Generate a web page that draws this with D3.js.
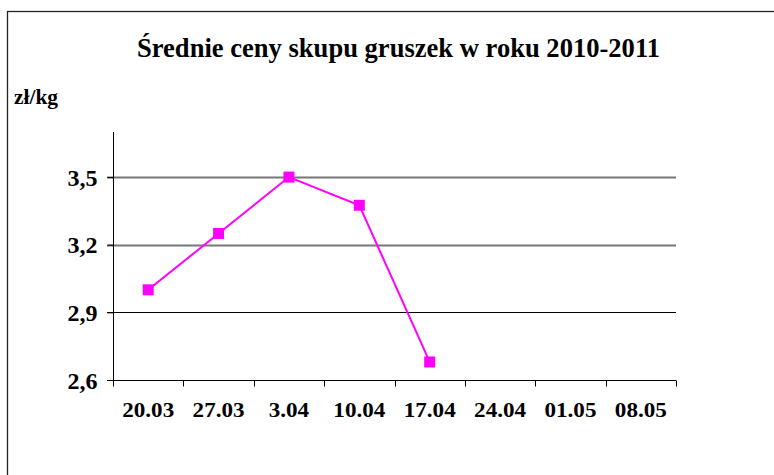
<!DOCTYPE html>
<html><head><meta charset="utf-8">
<script src="https://cdn.jsdelivr.net/npm/d3@7"></script>
<style>body{margin:0;background:#fff}svg{display:block}</style>
</head><body>
<script>
const categories = ["20.03","27.03","3.04","10.04","17.04","24.04","01.05","08.05"];
const values = [3.0, 3.25, 3.5, 3.375, 2.68, null, null, null];
const yTicks = [2.6, 2.9, 3.2, 3.5];
const titleText = "Średnie ceny skupu gruszek w roku 2010-2011";
const unitText = "zł/kg";

const W = 774, H = 475;
const svg = d3.select("body").append("svg").attr("width", W).attr("height", H);
const font = '"Liberation Serif"';

svg.append("rect").attr("x",7.5).attr("y",11.5).attr("width",W+10).attr("height",H+10)
  .attr("fill","none").attr("stroke","#222").attr("stroke-width",1.3);

const x = d3.scaleBand().domain(categories).range([113, 676]);
const y = d3.scaleLinear().domain([2.6, 3.7]).range([380, 132]);

// gridlines
svg.append("g").selectAll("line").data(yTicks.filter(t => t > 2.6)).join("line")
  .attr("x1", 107).attr("x2", 676)
  .attr("y1", d => Math.round(y(d)) + 0.5).attr("y2", d => Math.round(y(d)) + 0.5)
  .attr("stroke", d => d === 2.9 ? "#000" : "#777")
  .attr("stroke-width", d => d === 2.9 ? 1.2 : 2);

// y axis
const yAxis = svg.append("g").attr("transform","translate(113.5,0)")
  .call(d3.axisLeft(y).tickValues(yTicks).tickSize(6).tickFormat(d => d3.format(".1f")(d).replace(".", ",")));
yAxis.select(".domain").attr("d", `M0,${y(3.7)}V${y(2.6)}`).attr("stroke","#000");
yAxis.selectAll(".tick line").attr("stroke","#000");
yAxis.selectAll("text").attr("x", -16).attr("dy","0.34em")
  .style("font-family", font).style("font-weight","bold").style("font-size","24px").attr("fill","#000");

// x axis
const xAxis = svg.append("g").attr("transform","translate(0,380.5)")
  .call(d3.axisBottom(x).tickSize(0).tickFormat(d => d));
xAxis.select(".domain").attr("d","M107,0H676").attr("stroke","#000");
xAxis.selectAll("text").attr("y", 36.5).attr("dy", 0)
  .style("font-family", font).style("font-weight","bold").style("font-size","21px").attr("fill","#000")
  .each(function(){ const w = this.getComputedTextLength(); d3.select(this).attr("textLength", w*1.1).attr("lengthAdjust","spacingAndGlyphs"); });
const edges = categories.map(c => x(c)).concat([x.range()[1]]);
xAxis.append("g").selectAll("line").data(edges).join("line")
  .attr("x1", d => Math.round(d)+0.5).attr("x2", d => Math.round(d)+0.5)
  .attr("y1", 0).attr("y2", 6).attr("stroke","#000");

// line
const pts = categories.map((c,i) => ({c, v: values[i]})).filter(d => d.v != null);
const cx = d => x(d.c) + x.bandwidth()/2;
svg.append("path").datum(pts)
  .attr("d", d3.line().x(cx).y(d => y(d.v)))
  .attr("fill","none").attr("stroke","#ff00ff").attr("stroke-width",2);
svg.append("g").selectAll("rect").data(pts).join("rect")
  .attr("x", d => cx(d) - 5.5).attr("y", d => y(d.v) - 5.5)
  .attr("width", 11).attr("height", 11).attr("fill","#ff00ff");

// title
svg.append("text").attr("x", 398.5).attr("y", 57).attr("text-anchor","middle")
  .style("font-family", font).style("font-weight","bold").style("font-size","28px")
  .attr("textLength", 523).attr("lengthAdjust","spacingAndGlyphs").text(titleText);
svg.append("text").attr("x", 14).attr("y", 104)
  .style("font-family", font).style("font-weight","bold").style("font-size","20px")
  .attr("textLength", 44).attr("lengthAdjust","spacingAndGlyphs").text(unitText);
</script>
</body></html>
